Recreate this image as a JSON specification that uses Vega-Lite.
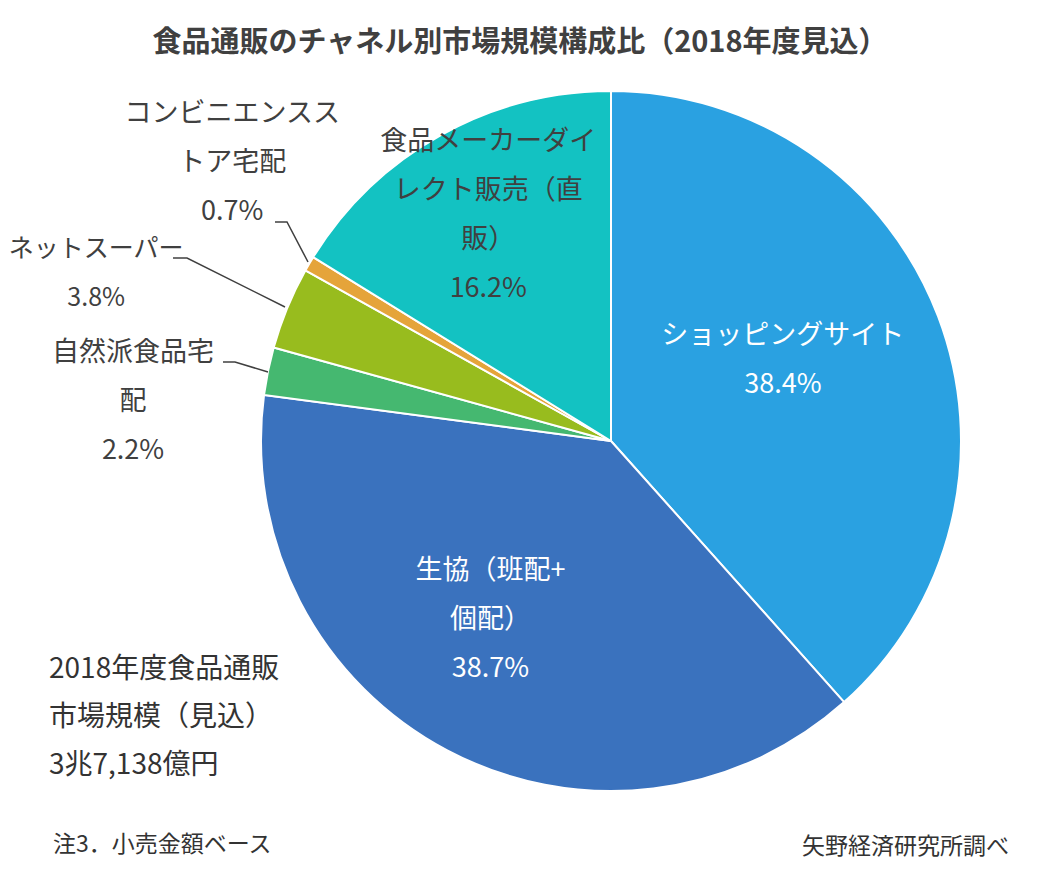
{
  "$schema": "https://vega.github.io/schema/vega-lite/v6.json",
  "width": 862,
  "height": 762,
  "autosize": "none",
  "padding": {"left": 180, "top": 60, "right": 0, "bottom": 60},
  "background": "white",
  "config": {"font": "Noto Sans CJK JP", "view": {"stroke": null}},
  "title": {
    "text": "食品通販のチャネル別市場規模構成比（2018年度見込）",
    "fontSize": 29,
    "fontWeight": "bold",
    "color": "#404040",
    "anchor": "middle",
    "frame": "group",
    "dx": -91,
    "dy": 36,
    "offset": 38
  },
  "datasets": {
    "shares": [
      {"channel": "ショッピングサイト", "label": "ショッピングサイト", "share": 38.4, "order": 1},
      {"channel": "生協（班配+個配）", "label": "生協（班配+\n個配）", "share": 38.7, "order": 2},
      {"channel": "自然派食品宅配", "label": "自然派食品宅\n配", "share": 2.2, "order": 3},
      {"channel": "ネットスーパー", "label": "ネットスーパー", "share": 3.8, "order": 4},
      {"channel": "コンビニエンスストア宅配", "label": "コンビニエンスス\nトア宅配", "share": 0.7, "order": 5},
      {"channel": "食品メーカーダイレクト販売（直販）", "label": "食品メーカーダイ\nレクト販売（直\n販）", "share": 16.2, "order": 6}
    ],
    "leaders": [
      {"id": "conv", "i": 1, "x": -0.96, "y": 0.6257},
      {"id": "conv", "i": 2, "x": -0.9257, "y": 0.6257},
      {"id": "conv", "i": 3, "x": -0.8657, "y": 0.5114},
      {"id": "net", "i": 1, "x": -1.2514, "y": 0.5229},
      {"id": "net", "i": 2, "x": -1.2114, "y": 0.5229},
      {"id": "net", "i": 3, "x": -0.9314, "y": 0.3829},
      {"id": "nat", "i": 1, "x": -1.1086, "y": 0.2257},
      {"id": "nat", "i": 2, "x": -1.0743, "y": 0.2257},
      {"id": "nat", "i": 3, "x": -0.98, "y": 0.1971}
    ],
    "notes": [
      {"note": "2018年度食品通販\n市場規模（見込）\n3兆7,138億円", "x": -1.6057, "y": -0.6543, "size": "large"},
      {"note": "注3．小売金額ベース", "x": -1.5943, "y": -1.1543, "size": "small"},
      {"note": "矢野経済研究所調べ", "x": 0.5457, "y": -1.16, "size": "small"}
    ]
  },
  "layer": [
    {
      "data": {"name": "shares"},
      "transform": [
        {"calculate": "datum.label + '\\n' + format(datum.share, '.1f') + '%'", "as": "text"},
        {"window": [{"op": "sum", "field": "share", "as": "cum"}], "sort": [{"field": "order", "order": "ascending"}], "frame": [null, 0]},
        {"calculate": "datum.cum - datum.share / 2", "as": "mid"}
      ],
      "encoding": {
        "theta": {"field": "share", "type": "quantitative", "stack": true, "scale": {"domain": [0, 100]}},
        "order": {"field": "order", "type": "quantitative", "sort": "ascending"}
      },
      "layer": [
        {
          "mark": {"type": "arc", "outerRadius": 350, "stroke": "white", "strokeWidth": 2},
          "encoding": {
            "color": {
              "field": "channel",
              "type": "nominal",
              "scale": {
                "domain": ["ショッピングサイト", "生協（班配+個配）", "自然派食品宅配", "ネットスーパー", "コンビニエンスストア宅配", "食品メーカーダイレクト販売（直販）"],
                "range": ["#2AA1E1", "#3A72BE", "#45B870", "#98BC1E", "#E5A43A", "#13C2C2"]
              },
              "legend": null
            }
          }
        },
        {
          "transform": [{"filter": "datum.order === 1"}],
          "mark": {"type": "text", "radius": 185, "dx": -1, "dy": -39, "fontSize": 27, "lineHeight": 49, "lineBreak": "\n", "align": "center", "baseline": "middle", "fill": "white"},
          "encoding": {"theta": {"field": "mid", "type": "quantitative", "stack": null}, "text": {"field": "text"}}
        },
        {
          "transform": [{"filter": "datum.order === 2"}],
          "mark": {"type": "text", "radius": 200, "dx": -27, "dy": -47, "fontSize": 27, "lineHeight": 49, "lineBreak": "\n", "align": "center", "baseline": "middle", "fill": "white"},
          "encoding": {"theta": {"field": "mid", "type": "quantitative", "stack": null}, "text": {"field": "text"}}
        },
        {
          "transform": [{"filter": "datum.order === 3"}],
          "mark": {"type": "text", "radius": 350, "dx": -135, "dy": -18, "fontSize": 27, "lineHeight": 49, "lineBreak": "\n", "align": "center", "baseline": "middle", "fill": "#404040"},
          "encoding": {"theta": {"field": "mid", "type": "quantitative", "stack": null}, "text": {"field": "text"}}
        },
        {
          "transform": [{"filter": "datum.order === 4"}],
          "mark": {"type": "text", "radius": 350, "dx": -191, "dy": -59, "fontSize": 25, "lineHeight": 49, "lineBreak": "\n", "align": "center", "baseline": "middle", "fill": "#404040"},
          "encoding": {"theta": {"field": "mid", "type": "quantitative", "stack": null}, "text": {"field": "text"}}
        },
        {
          "transform": [{"filter": "datum.order === 5"}],
          "mark": {"type": "text", "radius": 350, "dx": -77, "dy": -150, "fontSize": 27, "lineHeight": 49, "lineBreak": "\n", "align": "center", "baseline": "middle", "fill": "#404040"},
          "encoding": {"theta": {"field": "mid", "type": "quantitative", "stack": null}, "text": {"field": "text"}}
        },
        {
          "transform": [{"filter": "datum.order === 6"}],
          "mark": {"type": "text", "radius": 258, "dx": 3, "dy": -74, "fontSize": 27, "lineHeight": 49, "lineBreak": "\n", "align": "center", "baseline": "middle", "fill": "#404040"},
          "encoding": {"theta": {"field": "mid", "type": "quantitative", "stack": null}, "text": {"field": "text"}}
        }
      ]
    },
    {
      "data": {"name": "leaders"},
      "mark": {"type": "line", "color": "#404040", "strokeWidth": 1.5, "clip": false},
      "encoding": {
        "x": {"field": "x", "type": "quantitative", "scale": {"domain": [-1.23143, 1.23143], "nice": false, "zero": false}, "axis": null},
        "y": {"field": "y", "type": "quantitative", "scale": {"domain": [-1.08857, 1.08857], "nice": false, "zero": false}, "axis": null},
        "detail": {"field": "id", "type": "nominal"},
        "order": {"field": "i", "type": "quantitative"}
      }
    },
    {
      "data": {"name": "notes"},
      "mark": {"type": "text", "align": "left", "baseline": "middle", "lineBreak": "\n", "lineHeight": 48, "fill": "#333333", "clip": false},
      "encoding": {
        "x": {"field": "x", "type": "quantitative", "scale": {"domain": [-1.23143, 1.23143], "nice": false, "zero": false}, "axis": null},
        "y": {"field": "y", "type": "quantitative", "scale": {"domain": [-1.08857, 1.08857], "nice": false, "zero": false}, "axis": null},
        "text": {"field": "note", "type": "nominal"},
        "size": {"field": "size", "type": "nominal", "scale": {"domain": ["large", "small"], "range": [28, 23]}, "legend": null}
      }
    }
  ]
}
